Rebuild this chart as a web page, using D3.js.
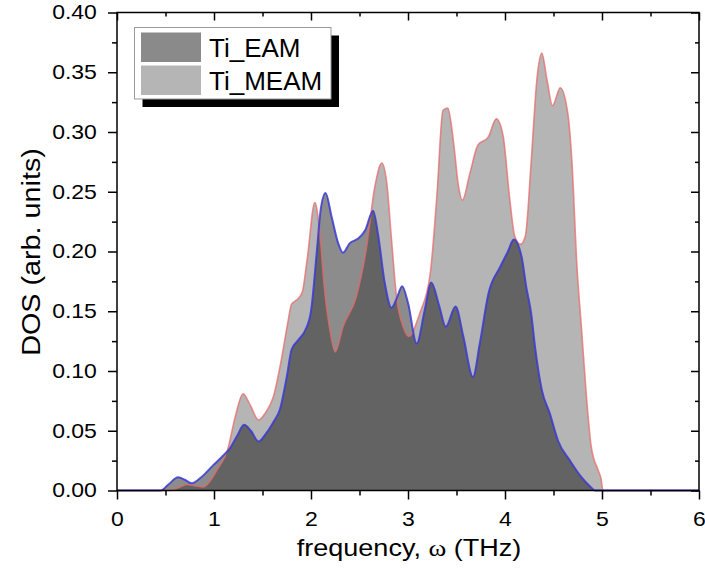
<!DOCTYPE html>
<html>
<head>
<meta charset="utf-8">
<script src="https://cdn.jsdelivr.net/npm/d3@7"></script>
<style>
  body { margin: 0; background: #fff; }
  text { font-family: "Liberation Sans", Arial, sans-serif; fill: #000; }
</style>
</head>
<body>
<div id="chart"></div>
<script>
// phonon DOS
var freqEAM = [0, 0.45, 0.53, 0.63, 0.70, 0.77, 0.88, 0.99, 1.08, 1.17, 1.24, 1.31, 1.38, 1.46, 1.53, 1.61, 1.68, 1.75, 1.80, 1.87, 1.94, 2.00, 2.06, 2.10, 2.15, 2.21, 2.28, 2.33, 2.40, 2.49, 2.56, 2.64, 2.69, 2.76, 2.83, 2.88, 2.94, 3.00, 3.09, 3.17, 3.24, 3.32, 3.39, 3.49, 3.57, 3.67, 3.74, 3.83, 3.95, 4.03, 4.09, 4.17, 4.22, 4.27, 4.31, 4.38, 4.46, 4.55, 4.67, 4.79, 4.87, 4.93, 6];
var dosEAM = [0, 0, 0.005, 0.011, 0.009, 0.006, 0.012, 0.021, 0.028, 0.036, 0.046, 0.055, 0.050, 0.041, 0.047, 0.057, 0.068, 0.095, 0.118, 0.126, 0.134, 0.150, 0.200, 0.235, 0.249, 0.230, 0.207, 0.199, 0.207, 0.211, 0.218, 0.234, 0.215, 0.174, 0.153, 0.160, 0.171, 0.157, 0.123, 0.150, 0.174, 0.155, 0.137, 0.154, 0.129, 0.095, 0.123, 0.165, 0.187, 0.200, 0.210, 0.196, 0.170, 0.148, 0.120, 0.084, 0.065, 0.041, 0.025, 0.011, 0.004, 0, 0];

var freqMEAM = [0, 0.55, 0.65, 0.72, 0.80, 0.89, 0.96, 1.03, 1.14, 1.22, 1.30, 1.37, 1.46, 1.53, 1.61, 1.70, 1.76, 1.80, 1.86, 1.91, 1.96, 2.04, 2.09, 2.14, 2.20, 2.25, 2.33, 2.47, 2.57, 2.66, 2.73, 2.78, 2.83, 2.88, 2.95, 3.01, 3.12, 3.23, 3.30, 3.36, 3.41, 3.47, 3.52, 3.56, 3.64, 3.72, 3.83, 3.91, 3.98, 4.05, 4.10, 4.16, 4.21, 4.27, 4.33, 4.38, 4.43, 4.49, 4.57, 4.65, 4.69, 4.74, 4.79, 4.84, 4.89, 4.96, 4.99, 5.01, 6];
var dosMEAM = [0, 0, 0.003, 0.005, 0.004, 0.003, 0.008, 0.017, 0.034, 0.062, 0.081, 0.072, 0.059, 0.065, 0.078, 0.112, 0.140, 0.156, 0.160, 0.166, 0.193, 0.241, 0.216, 0.168, 0.132, 0.116, 0.137, 0.163, 0.202, 0.255, 0.274, 0.258, 0.210, 0.163, 0.137, 0.129, 0.148, 0.182, 0.249, 0.318, 0.320, 0.291, 0.255, 0.243, 0.266, 0.289, 0.296, 0.311, 0.297, 0.243, 0.213, 0.206, 0.213, 0.275, 0.345, 0.366, 0.345, 0.322, 0.337, 0.314, 0.275, 0.190, 0.134, 0.078, 0.036, 0.017, 0.010, 0, 0];

var xTicks = [0, 1, 2, 3, 4, 5, 6];
var xMinor = [0.5, 1.5, 2.5, 3.5, 4.5, 5.5];
var yTicks = [0, 0.05, 0.10, 0.15, 0.20, 0.25, 0.30, 0.35, 0.40];
var yMinor = [0.025, 0.075, 0.125, 0.175, 0.225, 0.275, 0.325, 0.375];
var seriesNames = ["Ti_EAM", "Ti_MEAM"];

var canvasWidth = 705, canvasHeight = 570;
var plotLeft = 117, plotRight = 699, plotTop = 12.5, plotBottom = 490.5;
var stretch = "scale(1.15,1)";

var svg = d3.select("#chart").append("svg")
    .attr("width", canvasWidth)
    .attr("height", canvasHeight);

var xScale = d3.scaleLinear().domain([0, 6]).range([plotLeft, plotRight]);
var yScale = d3.scaleLinear().domain([0, 0.4]).range([plotBottom, plotTop]);

var eam = freqEAM.map(function(f, i) { return {f: f, v: dosEAM[i]}; });
var meam = freqMEAM.map(function(f, i) { return {f: f, v: dosMEAM[i]}; });

var area = d3.area()
    .x(function(d) { return xScale(d.f); })
    .y0(yScale(0))
    .y1(function(d) { return yScale(d.v); })
    .curve(d3.curveMonotoneX);
var line = d3.line()
    .x(function(d) { return xScale(d.f); })
    .y(function(d) { return yScale(d.v); })
    .curve(d3.curveMonotoneX);

// fills overlap like multiply
svg.append("path").datum(meam)
    .attr("fill", "#000").attr("fill-opacity", 0.29)
    .attr("d", area);
svg.append("path").datum(eam)
    .attr("fill", "#000").attr("fill-opacity", 0.45)
    .attr("d", area);
svg.append("path").datum(meam)
    .attr("fill", "none").attr("stroke", "#e86a6a").attr("stroke-opacity", 0.75)
    .attr("stroke-width", 1.6)
    .attr("d", line);
svg.append("path").datum(eam)
    .attr("fill", "none").attr("stroke", "#3a3ad0").attr("stroke-opacity", 0.85)
    .attr("stroke-width", 2)
    .attr("d", line);

function styleAxis(g) {
    g.select(".domain").remove();
    g.selectAll("line").attr("stroke", "#000").attr("stroke-width", 1.5);
}

// left
svg.append("g").attr("transform", "translate(" + plotLeft + ",0)")
    .call(d3.axisLeft(yScale).tickValues(yTicks).tickSize(9).tickPadding(8.5)
        .tickFormat(d3.format(".2f")))
    .call(styleAxis)
    .selectAll("text").attr("font-size", 20).attr("transform", stretch);
svg.append("g").attr("transform", "translate(" + plotLeft + ",0)")
    .call(d3.axisLeft(yScale).tickValues(yMinor).tickSize(5).tickFormat(""))
    .call(styleAxis);

// bottom
svg.append("g").attr("transform", "translate(0," + plotBottom + ")")
    .call(d3.axisBottom(xScale).tickValues(xTicks).tickSize(9).tickPadding(12)
        .tickFormat(d3.format("d")))
    .call(styleAxis)
    .selectAll("text").attr("font-size", 20).attr("transform", stretch);
svg.append("g").attr("transform", "translate(0," + plotBottom + ")")
    .call(d3.axisBottom(xScale).tickValues(xMinor).tickSize(5).tickFormat(""))
    .call(styleAxis);

// top and right, ticks inward
svg.append("g").attr("transform", "translate(0," + plotTop + ")")
    .call(d3.axisTop(xScale).tickValues(xTicks).tickSize(-8).tickFormat(""))
    .call(styleAxis);
svg.append("g").attr("transform", "translate(0," + plotTop + ")")
    .call(d3.axisTop(xScale).tickValues(xMinor).tickSize(-4).tickFormat(""))
    .call(styleAxis);
svg.append("g").attr("transform", "translate(" + plotRight + ",0)")
    .call(d3.axisRight(yScale).tickValues(yTicks).tickSize(-8).tickFormat(""))
    .call(styleAxis);
svg.append("g").attr("transform", "translate(" + plotRight + ",0)")
    .call(d3.axisRight(yScale).tickValues(yMinor).tickSize(-4).tickFormat(""))
    .call(styleAxis);

svg.append("rect")
    .attr("x", plotLeft).attr("y", plotTop)
    .attr("width", plotRight - plotLeft).attr("height", plotBottom - plotTop)
    .attr("fill", "none").attr("stroke", "#000").attr("stroke-width", 1.5);

// axis titles
var xt = svg.append("text")
    .attr("transform", "translate(409,556) " + stretch)
    .attr("text-anchor", "middle")
    .attr("font-size", 23.5);
xt.append("tspan").text("frequency, ");
xt.append("tspan").attr("font-family", "'Liberation Serif', 'Times New Roman', serif").text("ω");
xt.append("tspan").text(" (THz)");

svg.append("text")
    .attr("transform", "translate(40,252) rotate(-90) " + stretch)
    .attr("text-anchor", "middle")
    .attr("font-size", 25)
    .text("DOS (arb. units)");

// legend
var legend = svg.append("g");
legend.append("rect")
    .attr("x", 142.5).attr("y", 35.5).attr("width", 196.5).attr("height", 71.5)
    .attr("fill", "#000");
legend.append("rect")
    .attr("x", 134.5).attr("y", 27.5).attr("width", 196.5).attr("height", 71.5)
    .attr("fill", "#fff").attr("stroke", "#999").attr("stroke-width", 1);
var swatchColors = ["#8a8a8a", "#b5b5b5"];
seriesNames.forEach(function(name, i) {
    legend.append("rect")
        .attr("x", 141).attr("y", 32.5 + i * 33).attr("width", 60).attr("height", 29.5)
        .attr("fill", swatchColors[i]);
    legend.append("text")
        .attr("x", 209).attr("y", 57 + i * 32.5)
        .attr("font-size", 26)
        .text(name);
});
</script>
</body>
</html>
